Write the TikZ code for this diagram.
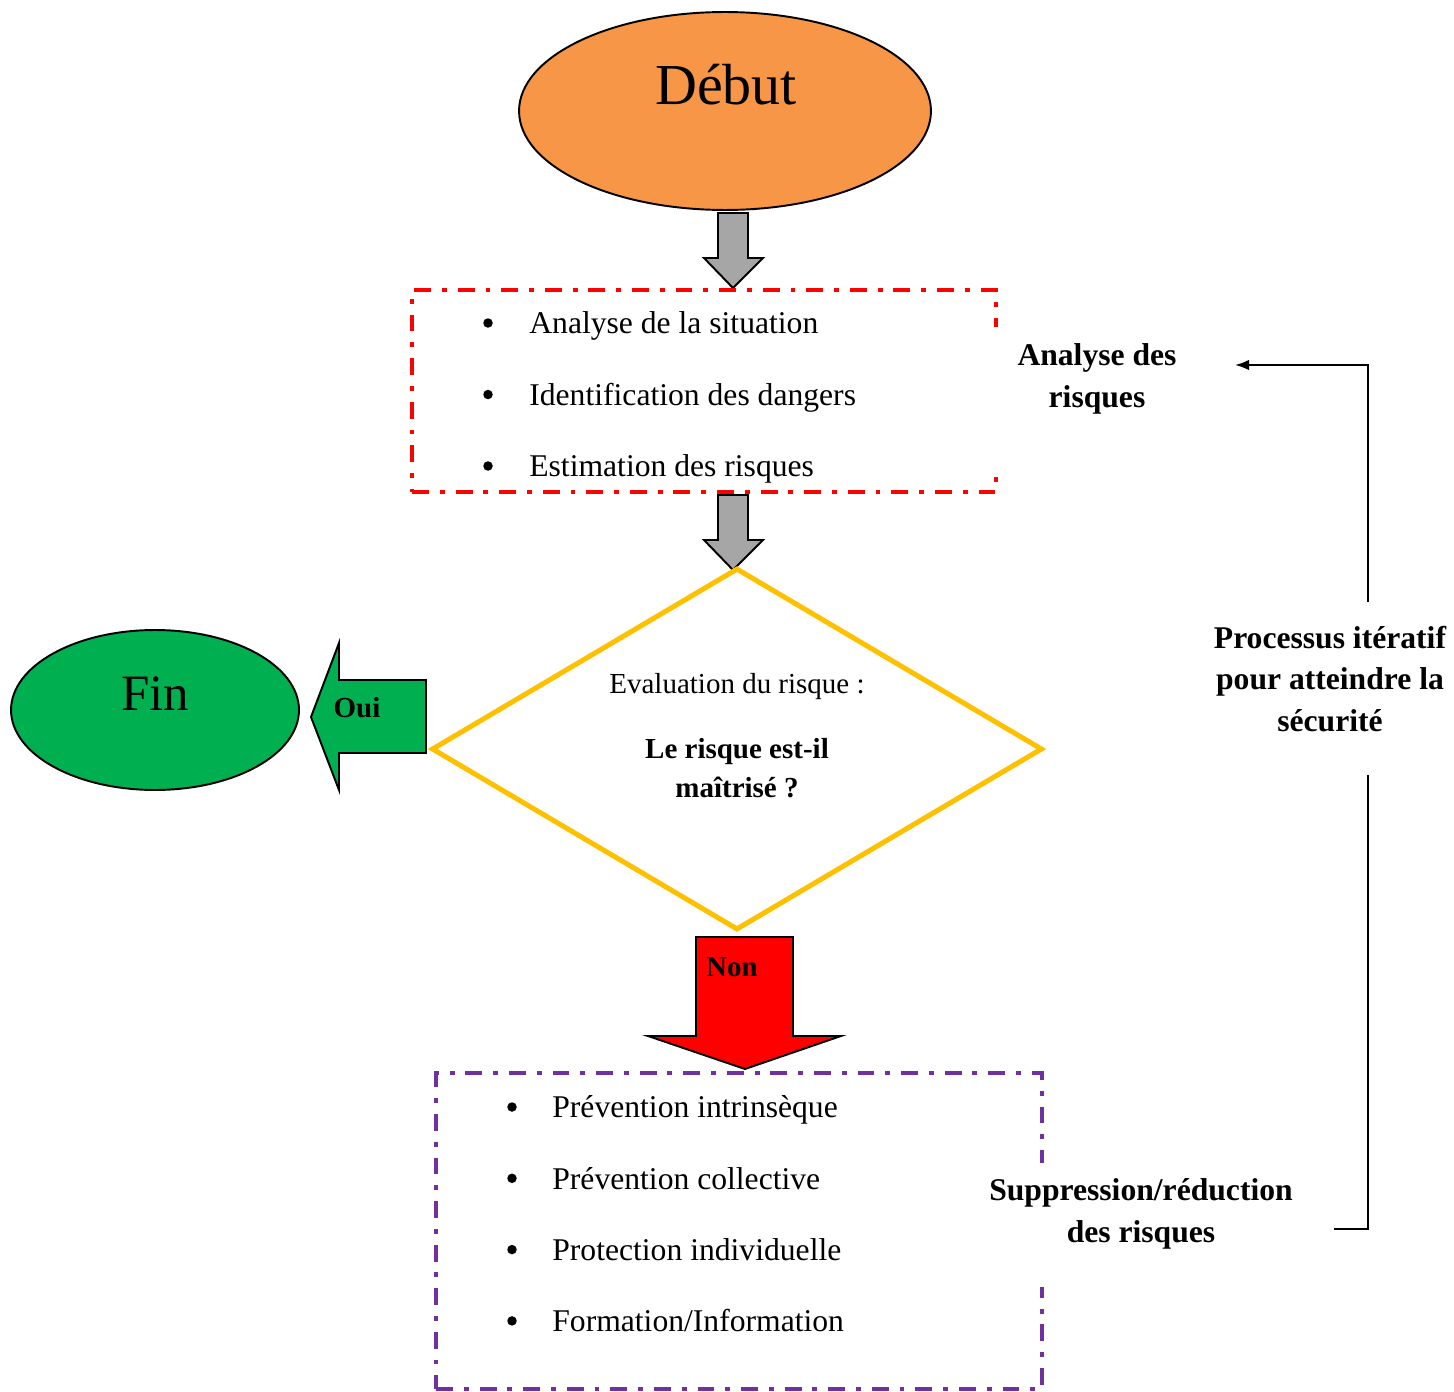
\documentclass[tikz,border=0pt]{standalone}
\usepackage{fontspec}
\setmainfont{Liberation Serif}
\usetikzlibrary{shapes.geometric, arrows.meta}
\definecolor{orangedebut}{HTML}{F79646}
\definecolor{vertfin}{HTML}{00B050}
\definecolor{jaune}{HTML}{FFC000}
\definecolor{violet}{HTML}{7030A0}
\definecolor{grisfl}{HTML}{A6A6A6}

\begin{document}
\begin{tikzpicture}[x=0.02cm, y=-0.02cm, line join=miter,
  contour/.style={draw=black, line width=1.1pt},
  etiq/.style={font=\fontsize{18}{23.8}\selectfont\bfseries, align=center, inner sep=0pt},
  liste/.style={font=\fontsize{18}{22}\selectfont, inner sep=0pt, text height=0.66em, text depth=0pt},
  puce/.style={circle, fill=black, inner sep=0pt, minimum size=0.19cm},
  cadre/.style={line width=2.5pt, dash pattern=on 9.6pt off 6.2pt on 2.8pt off 6.2pt},
  petit/.style={font=\fontsize{16.5}{22}\selectfont, inner sep=0pt}
]
  \useasboundingbox (0,0) rectangle (1454,1392);

  \node[ellipse, contour, fill=orangedebut, minimum width=8.24cm, minimum height=3.96cm] (debut) at (725,111) {};
  \node[font=\fontsize{33}{40}\selectfont, inner sep=0pt] (debuttxt) at (726,85) {Début};

  \foreach \haut in {213,495}
    \draw[contour, fill=grisfl] (718,\haut) -- ++(30,0) -- ++(0,45) -- ++(15,0) -- ++(-30,30) -- ++(-29,-30) -- ++(14,0) -- cycle;

  \node[draw=red, cadre, minimum width=11.68cm, minimum height=4.04cm] (analyse) at (704,391) {};
  \foreach \item [count=\i] in {Analyse de la situation, Identification des dangers, Estimation des risques} {
    \node[puce] (puceA\i) at (488, 251.5+71.5*\i) {};
    \node[liste, anchor=west] (itemA\i) at (529, 256.5+71.5*\i) {\item};
  }

  \node[diamond, draw=jaune, line width=2.85pt, aspect=1.69, inner sep=0pt, minimum width=12.22cm, minimum height=7.24cm] (eval) at (737,749) {};
  \node[petit] (evaltxt) at (737,687) {Evaluation du risque :};
  \node[petit, font=\fontsize{16.5}{22}\selectfont\bfseries, align=center] (question) at (737,768) {Le risque est-il\\maîtrisé ?};

  \draw[contour, fill=vertfin] (426,680) -- (426,753) -- (339,753) -- (339,790) -- (311,717) -- (339,643) -- (339,680) -- cycle;
  \node[petit, font=\fontsize{16.5}{20}\selectfont\bfseries] (oui) at (357,708) {Oui};
  \node[ellipse, contour, fill=vertfin, minimum width=5.76cm, minimum height=3.2cm] (fin) at (155,710) {};
  \node[font=\fontsize{29}{34}\selectfont, inner sep=0pt] (fintxt) at (155,694) {Fin};

  \draw[contour, fill=red] (696,937) -- (793,937) -- (793,1036) -- (841,1036) -- (745,1069) -- (648,1036) -- (696,1036) -- cycle;
  \node[petit, font=\fontsize{16.5}{20}\selectfont\bfseries] (non) at (732,967) {Non};

  \node[draw=violet, cadre, line width=2.1pt, minimum width=12.12cm, minimum height=6.32cm] (mesures) at (739,1231) {};
  \foreach \item [count=\i] in {Prévention intrinsèque, Prévention collective, Protection individuelle, Formation/Information} {
    \node[puce] (puceB\i) at (512, 1035.7+71.3*\i) {};
    \node[liste, anchor=west] (itemB\i) at (552, 1040.7+71.3*\i) {\item};
  }

  \fill[white] (985,327) rectangle (1008,470);
  \fill[white] (1030,1163) rectangle (1055,1287);

  \node[etiq] (anrisq) at (1097,379) {Analyse des\\risques};
  \node[etiq] (supp) at (1141,1214) {Suppression/réduction\\des risques};
  \node[etiq] (iter) at (1330,679) {Processus itératif\\pour atteindre la\\sécurité};

  \coordinate (depart) at (1334,1229);
  \coordinate (retour) at (1235,365);
  \coordinate (bouclebas) at (1368,775);
  \coordinate (bouclehaut) at (1368,602);
  \draw[line width=1.1pt] (depart) -| (bouclebas);
  \draw[line width=1.1pt, -{Latex[length=8pt, width=6pt]}] (bouclehaut) |- (retour);
\end{tikzpicture}
\end{document}
